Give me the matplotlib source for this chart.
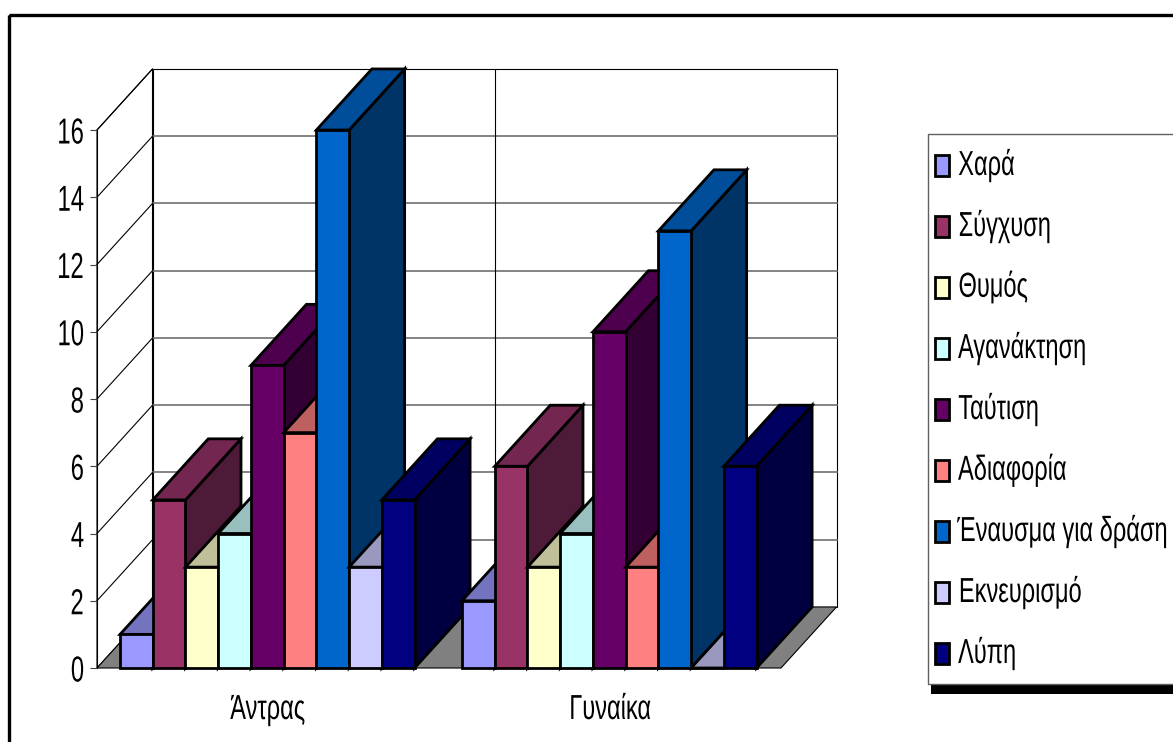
import matplotlib
matplotlib.use('Agg')
import matplotlib.pyplot as plt
from matplotlib.patches import Polygon, Rectangle
from matplotlib.patheffects import AbstractPathEffect
from matplotlib.transforms import Affine2D

plt.rcParams['font.family'] = ['Liberation Sans', 'DejaVu Sans']

groups = ['Άντρας', 'Γυναίκα']
emotions = ['Χαρά', 'Σύγχυση', 'Θυμός', 'Αγανάκτηση', 'Ταύτιση', 'Αδιαφορία',
            'Έναυσμα για δράση', 'Εκνευρισμό', 'Λύπη']
men = [1, 5, 3, 4, 9, 7, 16, 3, 5]
women = [2, 6, 3, 4, 10, 3, 13, 0, 6]
y_ticks = [0, 2, 4, 6, 8, 10, 12, 14, 16]

front_colors = ['#9999FF', '#993366', '#FFFFCC', '#CCFFFF', '#660066',
                '#FF8080', '#0066CC', '#CCCCFF', '#000080']
top_colors = ['#7373BF', '#732650', '#BFBF99', '#99BFBF', '#4D004D',
              '#BF6060', '#004D99', '#9999BF', '#000060']
side_colors = ['#4D4D80', '#4D1A38', '#808066', '#668080', '#330033',
               '#804040', '#003366', '#666680', '#000040']


class Condensed(AbstractPathEffect):
    # squeeze glyphs horizontally, the Arial here is wider than the chart wants
    def __init__(self, sx, pivot='left'):
        super().__init__()
        self.sx = sx
        self.pivot = pivot

    def draw_path(self, renderer, gc, tpath, affine, rgbFace=None):
        box = tpath.get_extents()
        p = {'left': box.x0, 'center': (box.x0 + box.x1) / 2, 'right': box.x1}[self.pivot]
        squeeze = Affine2D().translate(-p, 0).scale(self.sx, 1).translate(p, 0)
        renderer.draw_path(gc, tpath, squeeze + affine, rgbFace)


W, H = 1173, 742
fig = plt.figure(figsize=(W / 100, H / 100), dpi=100, facecolor='white')
ax = fig.add_axes([97 / W, 1 - 668 / H, (781 - 97) / W, (668 - 130) / H])
ax.set_xlim(0, len(groups))
ax.set_ylim(0, 16)
ax.patch.set_visible(False)

# oblique depth of the 3D box, in data units
depth_x = 55.5 / 342
depth_y = 61 / 33.6
bar_w = 0.0957
pad = (1 - len(emotions) * bar_w) / 2 - 0.002
n = len(groups)
top = y_ticks[-1]


def poly(points, color, lw, zorder, edge='black'):
    ax.add_patch(Polygon(points, closed=True, facecolor=color, edgecolor=edge,
                         linewidth=lw, joinstyle='miter', clip_on=False, zorder=zorder))


# walls and floor
poly([(0, 0), (depth_x, depth_y), (depth_x, top + depth_y), (0, top)], 'white', 0.8, 1)
poly([(depth_x, depth_y), (n + depth_x, depth_y), (n + depth_x, top + depth_y),
      (depth_x, top + depth_y)], 'white', 0.8, 1)
poly([(0, 0), (n, 0), (n + depth_x, depth_y), (depth_x, depth_y)], '#808080', 0.8, 1.5)

for t in y_ticks[1:-1]:
    ax.plot([depth_x, n + depth_x], [t + depth_y] * 2, color='#707070', lw=1.2, clip_on=False, zorder=1.2)
for t in y_ticks[1:]:
    ax.plot([0, depth_x], [t, t + depth_y], color='black', lw=0.8, clip_on=False, zorder=1.2)
ax.plot([1 + depth_x] * 2, [depth_y, top + depth_y], color='black', lw=0.8, clip_on=False, zorder=1.2)

# bars, painted left to right so each front hides the previous side
z = 2
for g, values in enumerate([men, women]):
    for j, v in enumerate(values):
        x0 = g + pad + j * bar_w
        x1 = x0 + bar_w
        poly([(x1, 0), (x1 + depth_x, depth_y), (x1 + depth_x, v + depth_y), (x1, v)],
             side_colors[j], 2.0, z)
        poly([(x0, v), (x1, v), (x1 + depth_x, v + depth_y), (x0 + depth_x, v + depth_y)],
             top_colors[j], 2.0, z + 0.1)
        poly([(x0, 0), (x1, 0), (x1, v), (x0, v)], front_colors[j], 2.0, z + 0.2)
        z += 1

for s in ['top', 'right', 'bottom']:
    ax.spines[s].set_visible(False)
ax.spines['left'].set_linewidth(0.8)
ax.spines['left'].set_zorder(1.3)
ax.set_yticks(y_ticks)
ax.set_xticks([g + 0.5 for g in range(n)])
ax.set_xticklabels(groups)
ax.tick_params(axis='y', length=5, width=0.8, color='#404040', labelsize=26, pad=4)
ax.tick_params(axis='x', length=0, labelsize=25, pad=18)
for lab in ax.get_yticklabels():
    lab.set_path_effects([Condensed(0.66, 'right')])
for lab in ax.get_xticklabels():
    lab.set_path_effects([Condensed(0.68, 'center')])

# overlay in pixel coordinates for the frame and the legend box
over = fig.add_axes([0, 0, 1, 1])
over.set_xlim(0, W)
over.set_ylim(H, 0)
over.axis('off')
over.patch.set_visible(False)

# outer frame runs off the right and bottom edges
over.add_patch(Rectangle((8.5, 14.5), W, H, facecolor='none', edgecolor='black', linewidth=2.4))

# legend: shadow, box, then one swatch and label per row
over.add_patch(Rectangle((931, 140), W, 554, facecolor='black', edgecolor='none'))
over.add_patch(Rectangle((927.5, 133.5), W, 550, facecolor='white', edgecolor='#606060', linewidth=1.0))
renderer = fig.canvas.get_renderer()
for j, name in enumerate(emotions):
    yc = 165 + j * 61
    over.add_patch(Rectangle((935, yc - 10.5), 14, 21, facecolor=front_colors[j],
                             edgecolor='black', linewidth=2.0))
    t = over.text(958, yc, name, fontsize=25, va='center', ha='left')
    w = t.get_window_extent(renderer).width
    if 958 + w > W:
        # the long label is anchored on its right end so it stays inside the canvas
        t.set_position((958 + 0.68 * w, yc))
        t.set_ha('right')
        t.set_path_effects([Condensed(0.68, 'right')])
    else:
        t.set_path_effects([Condensed(0.68, 'left')])

fig.savefig('out.png', dpi=100, facecolor='white')
